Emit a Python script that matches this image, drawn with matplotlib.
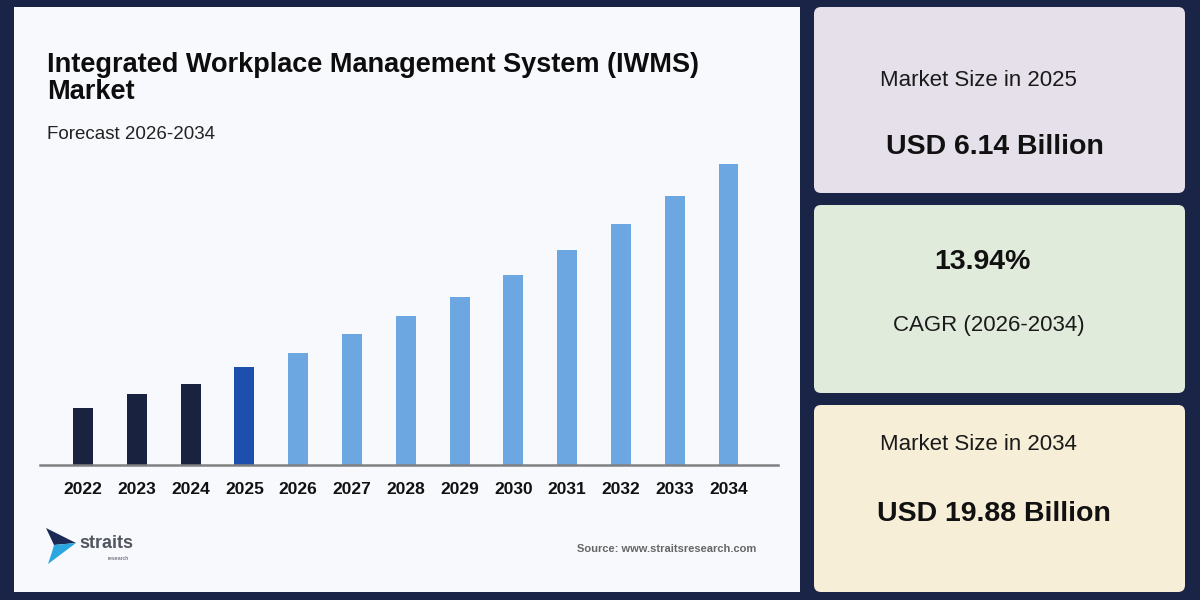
import matplotlib
matplotlib.use("Agg")
import matplotlib.pyplot as plt
from matplotlib.patches import FancyBboxPatch, Rectangle, Polygon

plt.rcParams['font.family'] = ['Liberation Sans', 'DejaVu Sans']

# ---- data ----
years = ["2022", "2023", "2024", "2025", "2026", "2027", "2028",
         "2029", "2030", "2031", "2032", "2033", "2034"]
values = [3.76, 4.69, 5.35, 6.47, 7.40, 8.65, 9.84,
          11.10, 12.55, 14.20, 15.92, 17.77, 19.88]
bar_colors = ["#19223f", "#19223f", "#19223f", "#1c4fae"] + ["#6ca7e1"] * 9

title_lines = ["Integrated Workplace Management System (IWMS)", "Market"]
subtitle = "Forecast 2026-2034"
card_texts = [
    ("Market Size in 2025", "USD 6.14 Billion"),
    ("13.94%", "CAGR (2026-2034)"),
    ("Market Size in 2034", "USD 19.88 Billion"),
]
source = "Source: www.straitsresearch.com"

NAVY = "#1a2446"
fig = plt.figure(figsize=(12, 6), dpi=100)
fig.patch.set_facecolor(NAVY)

bg = fig.add_axes([0, 0, 1, 1])
bg.set_xlim(0, 1200)
bg.set_ylim(600, 0)
bg.axis("off")
bg.set_zorder(0)

# left panel
bg.add_patch(Rectangle((14, 7), 786, 585, facecolor="#f8f9fd", edgecolor="none"))

# right cards
card_cols = ["#e5e0ea", "#e1ebdb", "#f7eed8"]
card_y = [(7, 193), (205, 393), (405, 592)]
for (y0, y1), c in zip(card_y, card_cols):
    bg.add_patch(FancyBboxPatch((814, y0), 371, y1 - y0,
                                boxstyle="round,pad=0,rounding_size=7",
                                facecolor=c, edgecolor="none"))

# title texts
for line, yb in zip(title_lines, [72, 99]):
    bg.text(47, yb, line, fontsize=19.5, fontweight="bold", color="#0d0d0d",
            ha="left", va="baseline")
bg.text(47, 139, subtitle, fontsize=13.5, color="#222222", ha="left", va="baseline")

# card texts
bg.text(978, 80, card_texts[0][0], fontsize=16, color="#1a1a1a", ha="center", va="center")
bg.text(995, 147, card_texts[0][1], fontsize=20.5, fontweight="bold", color="#111111",
        ha="center", va="center")
bg.text(982, 262, card_texts[1][0], fontsize=20.5, fontweight="bold", color="#111111",
        ha="center", va="center")
bg.text(989, 326, card_texts[1][1], fontsize=16, color="#1a1a1a", ha="center", va="center")
bg.text(978, 445, card_texts[2][0], fontsize=16, color="#1a1a1a", ha="center", va="center")
bg.text(994, 514, card_texts[2][1], fontsize=20.5, fontweight="bold", color="#111111",
        ha="center", va="center")

# logo
bg.add_patch(Polygon([(46, 528), (76, 543), (54, 545)], closed=True,
                     facecolor="#1b2a55", edgecolor="none"))
bg.add_patch(Polygon([(54, 545), (76, 543), (48, 564), (52, 552)], closed=True,
                     facecolor="#2aa7e0", edgecolor="none"))
bg.text(79, 544, "straits", fontsize=13, fontweight="bold", color="#50555e",
        ha="left", va="center")
bg.text(118, 558, "research", fontsize=4, color="#50555e", ha="center", va="center")

# source
bg.text(667, 549, source, fontsize=8, color="#666666", ha="center", va="center",
        fontweight="semibold")

# ---- bar chart ----
px_per_unit = 301 / 19.88
ax = fig.add_axes([40 / 1200, (600 - 465) / 600, 738 / 1200, 315 / 600])
ax.patch.set_alpha(0)
ax.set_zorder(1)
x = list(range(len(years)))
ax.bar(x, values, width=0.37, color=bar_colors, zorder=2)
ax.set_xlim(-0.80, 12.92)
ax.set_ylim(0, 315 / px_per_unit)
for s in ["top", "right", "left"]:
    ax.spines[s].set_visible(False)
ax.spines["bottom"].set_color("#808080")
ax.spines["bottom"].set_linewidth(1.8)
ax.set_yticks([])
ax.set_xticks(x)
ax.set_xticklabels(years, fontsize=12.5, fontweight="bold", color="#111111")
ax.tick_params(axis="x", length=0, pad=12)

fig.savefig("out.png", dpi=100, facecolor=NAVY)
